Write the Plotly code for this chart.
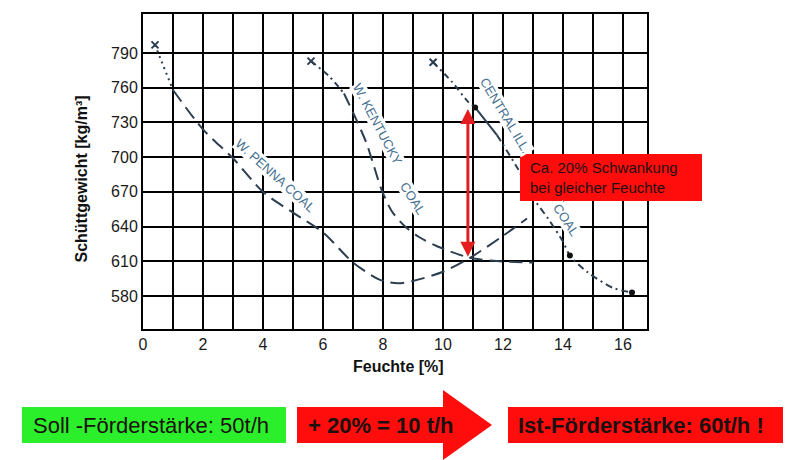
import plotly.graph_objects as go

# ---------------- data ----------------
x_ticks = [0, 2, 4, 6, 8, 10, 12, 14, 16]
y_ticks = [580, 610, 640, 670, 700, 730, 760, 790]

penna_x = [0.4, 1.0, 2.0, 3.0, 4.0, 5.0, 6.0, 7.0, 7.9, 8.5, 9.0, 10.0, 10.9, 12.0, 12.8]
penna_y = [797, 758, 724, 699, 670, 652, 635, 609, 594, 591, 593, 601, 613, 632, 647]

kentucky_x = [5.6, 6.2, 6.7, 7.1, 7.45, 7.7, 7.95, 8.3, 8.7, 9.2, 9.8, 10.9, 11.9, 13.0]
kentucky_y = [783, 770, 755, 733, 712, 692, 672, 653, 641, 631, 623, 613, 610, 609]

central_x = [9.67, 10.3, 10.83, 11.07, 11.8, 12.47, 13.0, 13.5, 14.0, 14.23, 14.8, 15.67, 16.3]
central_y = [782, 765, 748, 743, 719, 691, 665, 647, 627, 615, 601, 587, 583]
central_dots = [3, 9, 12]          # indices of measured points drawn as dots

arrow_x = 10.83
arrow_top = 743
arrow_bottom = 614

labels_curves = ["W. PENNA COAL", "W. KENTUCKY", "COAL", "CENTRAL ILL.", "COAL"]
box_note = "Ca. 20% Schwankung<br>bei gleicher Feuchte"
bottom_texts = ["Soll -Förderstärke: 50t/h", "<b>+ 20% = 10 t/h</b>", "<b>Ist-Förderstärke: 60t/h !</b>"]

X_RANGE = [0, 16.8]
Y_RANGE = [551.5, 823.7]

# ---------------- styling / layout helpers ----------------
L, T, W, H = 143, 14, 504, 315
def pxx(p): return (p - L) / W
def pxy(p): return (T + H - p) / H

CURVE = "#2c3e50"
LABEL = "#46708f"
GRID = "black"
FONT = "Liberation Sans, Arial, sans-serif"

fig = go.Figure()

def seg(xs, ys, dash):
    fig.add_trace(go.Scatter(x=xs, y=ys, mode="lines",
                             line=dict(color=CURVE, width=2, dash=dash, shape="spline", smoothing=0.8),
                             showlegend=False))

# W. Penna
seg(penna_x[:2], penna_y[:2], "2px,4px")
seg(penna_x[1:], penna_y[1:], "14px,7px")
# W. Kentucky
seg(kentucky_x[:3], kentucky_y[:3], "6px,4px,2px,4px")
seg(kentucky_x[2:], kentucky_y[2:], "13px,7px")
# Central Ill.
seg(central_x[:4], central_y[:4], "6px,4px,2px,4px")
seg(central_x[3:5], central_y[3:5], "solid")
seg(central_x[4:], central_y[4:], "7px,4px,2px,4px")

# start markers
fig.add_trace(go.Scatter(x=[penna_x[0], kentucky_x[0], central_x[0]], y=[penna_y[0], kentucky_y[0], central_y[0]],
                         mode="markers", marker=dict(symbol="x-thin", size=7, line=dict(color=CURVE, width=2)),
                         showlegend=False))
fig.add_trace(go.Scatter(x=[central_x[i] for i in central_dots], y=[central_y[i] for i in central_dots],
                         mode="markers", marker=dict(symbol="circle", size=6, color="#111111"),
                         showlegend=False))

ann = []
# curve labels (pixel-positioned)
for text, cx, cy, ang in [(labels_curves[0], 275, 176, 42), (labels_curves[1], 378, 124, 62),
                          (labels_curves[2], 412, 198, 58), (labels_curves[3], 505, 116, 59),
                          (labels_curves[4], 566, 219, 57)]:
    ann.append(dict(text=text, x=pxx(cx), y=pxy(cy), xref="paper", yref="paper", showarrow=False,
                    textangle=ang, font=dict(family=FONT, size=13, color=LABEL), bgcolor="white", borderpad=0,
                    xanchor="center", yanchor="middle"))

# red double arrow
ann.append(dict(x=arrow_x, y=arrow_bottom, ax=arrow_x, ay=arrow_top, xref="x", yref="y", axref="x", ayref="y",
                text="", showarrow=True, arrowhead=2, startarrowhead=2, arrowside="end+start",
                arrowsize=1.0, startarrowsize=1.0, arrowwidth=3, arrowcolor="#e41e1e"))

# note text (box is a shape below)
ann.append(dict(text=box_note, x=pxx(528), y=pxy(178), xref="paper", yref="paper", xanchor="left", yanchor="middle",
                showarrow=False, align="left", font=dict(family=FONT, size=15, color="#1c1010")))

# axis titles
ann.append(dict(text="<b>Schüttgewicht [kg/m³]</b>", x=pxx(70), y=pxy(179), xref="paper", yref="paper",
                textangle=-90, showarrow=False, font=dict(family=FONT, size=16, color="#111111")))
ann.append(dict(text="<b>Feuchte [%]</b>", x=pxx(398), y=pxy(377), xref="paper", yref="paper",
                showarrow=False, font=dict(family=FONT, size=16, color="#111111")))

# bottom row texts
for text, lx in zip(bottom_texts, [31, 306, 516]):
    ann.append(dict(text=text, x=pxx(lx), y=pxy(425), xref="paper", yref="paper", xanchor="left", yanchor="middle",
                    showarrow=False, font=dict(family=FONT, size=22, color="#1c1010")))

shapes = [
    dict(type="rect", xref="paper", yref="paper", x0=pxx(520), x1=pxx(702), y0=pxy(201), y1=pxy(154),
         fillcolor="#ff0d0d", line=dict(width=0), layer="above"),
    dict(type="rect", xref="paper", yref="paper", x0=pxx(22), x1=pxx(286), y0=pxy(443), y1=pxy(407),
         fillcolor="#2aef2a", line=dict(width=0), layer="above"),
    dict(type="path", xref="paper", yref="paper", layer="above", fillcolor="#ff0d0d", line=dict(width=0),
         path=("M {a},{b} L {c},{b} L {c},{d} L {e},{f} L {c},{g} L {c},{h} L {a},{h} Z").format(
             a=pxx(297), b=pxy(407), c=pxx(443), d=pxy(390), e=pxx(492), f=pxy(425), g=pxy(460), h=pxy(443))),
    dict(type="rect", xref="paper", yref="paper", x0=pxx(508), x1=pxx(783), y0=pxy(443), y1=pxy(407),
         fillcolor="#ff0d0d", line=dict(width=0), layer="above"),
]

fig.update_layout(
    width=800, height=460, margin=dict(l=L, r=800 - L - W, t=T, b=460 - T - H),
    paper_bgcolor="white", plot_bgcolor="white", showlegend=False,
    xaxis=dict(range=X_RANGE, tickmode="linear", tick0=x_ticks[0], dtick=x_ticks[1] - x_ticks[0],
               showgrid=True, gridcolor=GRID, gridwidth=2,
               minor=dict(dtick=1, tick0=0, showgrid=True, gridcolor=GRID, gridwidth=2),
               showline=True, linecolor=GRID, linewidth=2, mirror=True, zeroline=False,
               tickfont=dict(family=FONT, size=16, color="#1a1a1a")),
    yaxis=dict(range=Y_RANGE, tickmode="array", tickvals=y_ticks,
               showgrid=True, gridcolor=GRID, gridwidth=2,
               showline=True, linecolor=GRID, linewidth=2, mirror=True, zeroline=False,
               tickfont=dict(family=FONT, size=16, color="#1a1a1a")),
    annotations=ann, shapes=shapes,
)

fig.write_html("out.html")
